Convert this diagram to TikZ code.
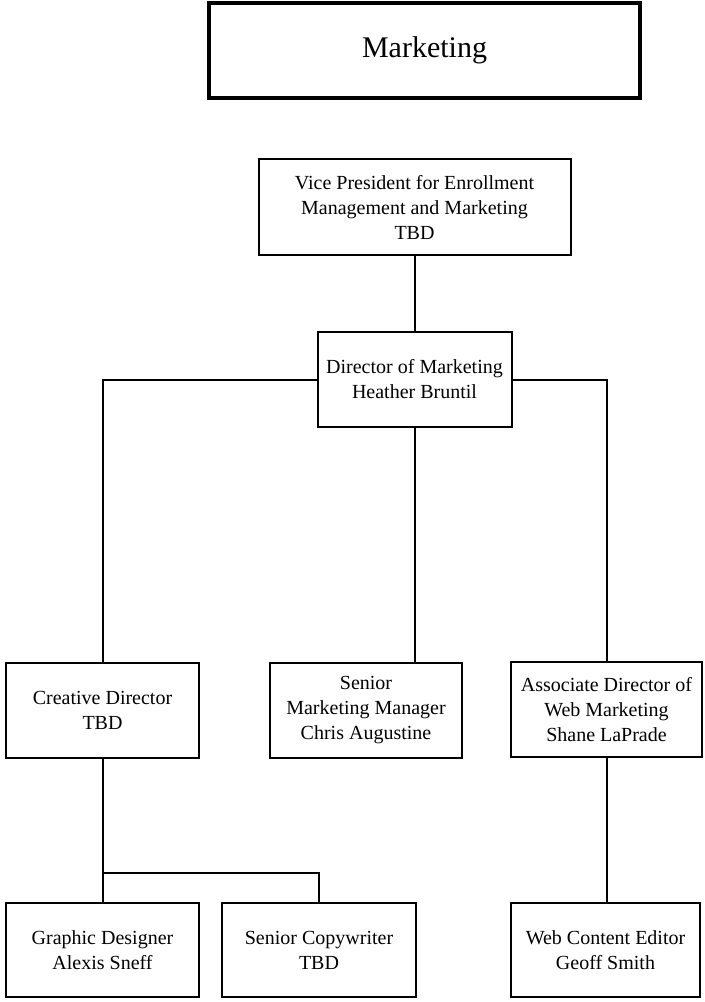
\documentclass[tikz,border=0pt]{standalone}
\usepackage{fontspec}
\setmainfont{Liberation Serif}
\begin{document}
\begin{tikzpicture}[x=0.75pt,y=-0.75pt,
  box/.style={draw=black,line width=1.5pt,fill=white,rectangle,align=center,inner sep=0pt,
    font=\fontsize{15}{18.75}\selectfont},
  title/.style={draw=black,line width=2.6pt,fill=white,rectangle,align=center,inner sep=0pt,
    font=\fontsize{22.5}{27}\selectfont},
  link/.style={draw=black,line width=1.5pt}]
\useasboundingbox (0,0) rectangle (704,1002);
\node[title,minimum width=431*0.75pt,minimum height=95*0.75pt] (mkt) at (424.5,50.5) {Marketing};
\node[box,minimum width=312*0.75pt,minimum height=96*0.75pt] (vp) at (414.5,207) {Vice President for Enrollment\\Management and Marketing\\TBD};
\node[box,minimum width=194*0.75pt,minimum height=95*0.75pt] (dir) at (414.5,379.5) {Director of Marketing\\Heather Bruntil};
\node[box,minimum width=193*0.75pt,minimum height=95*0.75pt] (cre) at (102.5,710.5) {Creative Director\\TBD};
\node[box,minimum width=192*0.75pt,minimum height=95*0.75pt] (sen) at (366,710.5) {Senior\\Marketing Manager\\Chris Augustine};
\node[box,minimum width=191*0.75pt,minimum height=95*0.75pt] (asc) at (606.5,709.5) {Associate Director of\\Web Marketing\\Shane LaPrade};
\node[box,minimum width=193*0.75pt,minimum height=94*0.75pt] (gra) at (102.5,950) {Graphic Designer\\Alexis Sneff};
\node[box,minimum width=194*0.75pt,minimum height=94*0.75pt] (cop) at (319,950) {Senior Copywriter\\TBD};
\node[box,minimum width=189*0.75pt,minimum height=94*0.75pt] (web) at (605.5,950) {Web Content Editor\\Geoff Smith};
\coordinate (br) at (102.5,873);
\draw[link] (vp.south) -- (dir.north);
\draw[link] (dir.west) -| (cre.north);
\draw[link] (dir.east) -| (asc.north);
\draw[link] (dir.south) -- (dir.south |- sen.north);
\draw[link] (cre.south) -- (gra.north);
\draw[link] (br) -| (cop.north);
\draw[link] (asc.south) -- (asc.south |- web.north);
\end{tikzpicture}
\end{document}
